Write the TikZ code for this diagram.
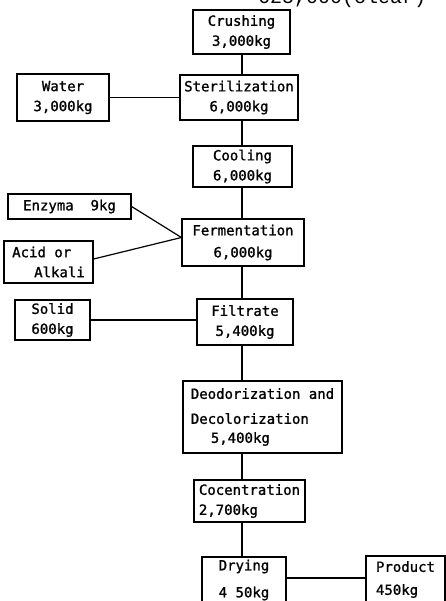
\documentclass[tikz,border=0pt]{standalone}
\usepackage{fontspec}
\newfontfamily\stagefont{DejaVu Sans Mono}[FakeBold=1.2]
\newfontfamily\headfont{Liberation Mono}
\usetikzlibrary{positioning}

\begin{document}
\begin{tikzpicture}[x=1pt,y=-1pt,
  stage/.style={draw, line width=1.2pt, inner sep=0pt, align=center,
    font=\stagefont\fontsize{14}{20}\selectfont},
  link/.style={line width=1.2pt}]
  \useasboundingbox (0,0) rectangle (446,601);
  \node[anchor=base west, inner sep=0pt, font=\headfont\fontsize{20}{20}\selectfont] (head) at (258,4) {625,000(clear)};

  \node[stage, minimum width=97pt, minimum height=44pt] (crush) at (241.5,32) {Crushing\\3,000kg};
  \node[stage, minimum width=92pt, minimum height=47pt] (water) at (63,97.5) {Water\\3,000kg};
  \node[stage, minimum width=118pt, minimum height=45pt] (steril) at (239,97.5) {Sterilization\\6,000kg};
  \node[stage, minimum width=99pt, minimum height=41pt] (cool) at (242.5,166.5) {Cooling\\6,000kg};
  \node[stage, minimum width=123pt, minimum height=25pt] (enzyme) at (69.5,206.5) {Enzyma\ \ 9kg};
  \node[stage, minimum width=122pt, minimum height=47pt] (ferm) at (243,242.5) {Fermentation\\[2pt]6,000kg};
  \node[stage, minimum width=89pt, minimum height=42pt, align=left] (acid) at (48.5,262) {Acid or\\\hspace*{22pt}Alkali};
  \node[stage, minimum width=75pt, minimum height=40pt] (solid) at (52.5,320) {Solid\\600kg};
  \node[stage, minimum width=96pt, minimum height=46pt] (filt) at (245,322) {Filtrate\\5,400kg};
  \node[stage, minimum width=159pt, minimum height=72pt, align=left] (deod) at (262.5,417)
    {Deodorization and\\[5pt]Decolorization\\[-1pt]\hspace*{20pt}5,400kg};
  \node[stage, minimum width=111pt, minimum height=42pt, align=left] (conc) at (249.5,501) {Cocentration\\2,700kg};
  \node[stage, minimum width=84pt, minimum height=46pt, align=left] (dry) at (244,580) {Drying\\[7pt]4 50kg};
  \node[stage, minimum width=79pt, minimum height=47pt, align=left] (prod) at (405.5,579.5) {Product\\[3pt]450kg};

  \coordinate (spine) at (242,0);
  \coordinate (feed) at ([yshift=5pt]ferm.west);

  \foreach \a/\b in {crush/steril, steril/cool, cool/ferm, ferm/filt, filt/deod, deod/conc, conc/dry}
    \draw[link] (\a.south -| spine) -- (\b.north -| spine);

  \draw[link] (water) -- (steril);
  \draw[link] (solid) -- (filt.west |- solid);
  \draw[link] (enzyme.east) -- (feed);
  \draw[link] ([yshift=3pt]acid.east) -- (feed);
  \draw[link] ([yshift=2pt]dry.east) -- ([yshift=2pt]dry.east -| prod.west);
\end{tikzpicture}
\end{document}
